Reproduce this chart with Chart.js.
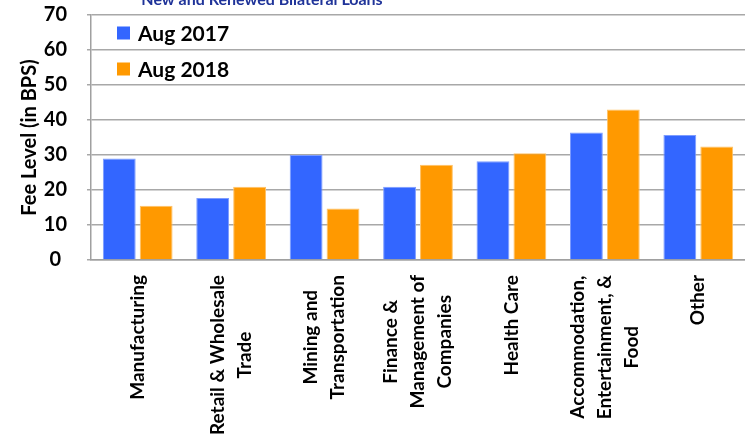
<!DOCTYPE html>
<html>
<head>
<meta charset="utf-8">
<script src="https://cdn.jsdelivr.net/npm/chart.js@4/dist/chart.umd.min.js"></script>
<style>
html,body{margin:0;padding:0;background:#fff;}
canvas{display:block;}
</style>
</head>
<body>
<canvas id="c" width="745" height="447"></canvas>
<script>
const chartTitle = "New and Renewed Bilateral Loans";
const yAxisTitle = "Fee Level (in BPS)";
const categories = [
  ["Manufacturing"],
  ["Retail & Wholesale", "Trade"],
  ["Mining and", "Transportation"],
  ["Finance &", "Management of", "Companies"],
  ["Health Care"],
  ["Accommodation,", "Entertainment, &", "Food"],
  ["Other"]
];
const seriesNames = ["Aug 2017", "Aug 2018"];
const aug2017 = [29.0, 17.7, 30.0, 20.9, 28.2, 36.4, 35.7];
const aug2018 = [15.5, 20.9, 14.7, 27.2, 30.5, 43.0, 32.4];
const yTicks = [0, 10, 20, 30, 40, 50, 60, 70];

const FONT = "Lato, 'Open Sans', sans-serif";

const overlay = {
  id: 'overlay',
  afterDraw(chart) {
    const ctx = chart.ctx;
    const xs = chart.scales.x;
    ctx.save();
    // title (cropped at top)
    ctx.fillStyle = '#1F3399';
    ctx.font = "bold 16px " + FONT;
    ctx.textAlign = 'center';
    ctx.textBaseline = 'alphabetic';
    ctx.fillText(chartTitle, 262, 5);

    // x category labels, rotated
    ctx.fillStyle = '#000';
    ctx.font = "bold 19px " + FONT;
    const lineGap = 27;
    const topY = chart.chartArea.bottom + 15;
    categories.forEach((lines, i) => {
      const cx = xs.getPixelForValue(i);
      let maxW = 0;
      lines.forEach(l => { maxW = Math.max(maxW, ctx.measureText(l).width); });
      const cy = topY + maxW / 2;
      lines.forEach((l, j) => {
        const lx = cx + (j - (lines.length - 1) / 2) * lineGap;
        ctx.save();
        ctx.translate(lx, cy);
        ctx.rotate(-Math.PI / 2);
        ctx.textAlign = 'center';
        ctx.textBaseline = 'middle';
        ctx.fillText(l, 0, 0);
        ctx.restore();
      });
    });

    // legend inside plot area
    ctx.font = "bold 21px " + FONT;
    ctx.textAlign = 'left';
    ctx.textBaseline = 'middle';
    chart.data.datasets.forEach((ds, k) => {
      const y = chart.chartArea.top + 18 + k * 36;
      ctx.fillStyle = ds.backgroundColor;
      ctx.fillRect(117, y - 6.5, 13, 13);
      ctx.fillStyle = '#000';
      ctx.fillText(ds.label, 138, y + 1);
    });
    ctx.restore();
  }
};

new Chart(document.getElementById('c'), {
  type: 'bar',
  data: {
    labels: categories.map(c => c.join(' ')),
    datasets: [
      { label: seriesNames[0], data: aug2017, backgroundColor: '#3366FF', borderColor: '#7D9CFF', borderWidth: 1 },
      { label: seriesNames[1], data: aug2018, backgroundColor: '#FF9900', borderColor: '#FFC266', borderWidth: 1 }
    ]
  },
  options: {
    responsive: false,
    animation: false,
    devicePixelRatio: 1,
    layout: { padding: 0 },
    categoryPercentage: 0.79,
    barPercentage: 0.89,
    plugins: {
      legend: { display: false },
      tooltip: { enabled: false },
      title: { display: false }
    },
    scales: {
      x: {
        ticks: { display: false },
        grid: { display: false },
        border: { display: true, color: '#A0A0A0', width: 1.5 },
        afterFit(s) { s.height = 187; s.paddingLeft = 0; s.paddingRight = 0; }
      },
      y: {
        min: 0, max: 70,
        afterBuildTicks(s) { s.ticks = yTicks.map(v => ({ value: v })); },
        ticks: {
          color: '#000',
          font: { family: FONT, size: 20, weight: 'bold' },
          padding: 20,
          crossAlign: 'center'
        },
        grid: { color: '#A8A8A8', lineWidth: 1.5, tickLength: 4, drawTicks: true },
        border: { display: true, color: '#A0A0A0', width: 1.5 },
        title: {
          display: true,
          text: yAxisTitle,
          color: '#000',
          font: { family: FONT, size: 20, weight: 'bold' },
          padding: { top: 18, bottom: 0 }
        },
        afterFit(s) { s.width = 91; s.paddingTop = 15; s.paddingBottom = 0; }
      }
    }
  },
  plugins: [overlay]
});
</script>
</body>
</html>
